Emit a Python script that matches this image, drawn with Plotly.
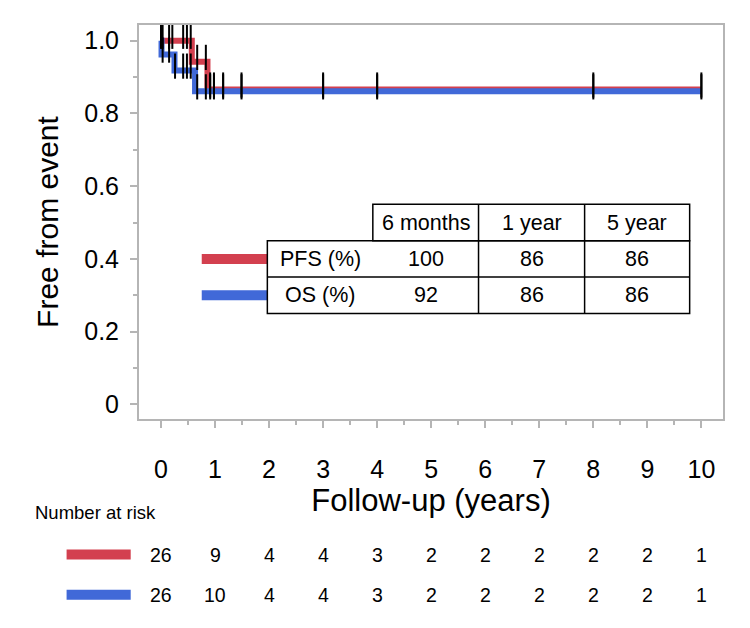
import plotly.graph_objects as go

# ---------------- data ----------------
pfs_t = [0.0, 0.57, 0.86, 10.0]
pfs_s = [1.0, 0.942, 0.866, 0.866]
os_t = [0.0, 0.01, 0.25, 0.63, 10.0]
os_s = [1.0, 0.962, 0.918, 0.861, 0.861]

pfs_cens = [0.0, 0.03, 0.15, 0.21, 0.41, 0.48, 0.55, 0.67, 0.83, 0.91, 0.98, 1.15, 1.49, 3, 4, 8, 10]
os_cens = [0.03, 0.15, 0.26, 0.41, 0.48, 0.55, 0.67, 0.83, 0.91, 0.98, 1.15, 1.49, 3, 4, 8, 10]

risk_times = [0, 1, 2, 3, 4, 5, 6, 7, 8, 9, 10]
pfs_risk = [26, 9, 4, 4, 3, 2, 2, 2, 2, 2, 1]
os_risk = [26, 10, 4, 4, 3, 2, 2, 2, 2, 2, 1]

table_cols = ["6 months", "1 year", "5 year"]
table_rows = ["PFS (%)", "OS (%)"]
pfs_table = [100, 86, 86]
os_table = [92, 86, 86]

y_ticks = [0, 0.2, 0.4, 0.6, 0.8, 1.0]
y_ticktext = ["0", "0.2", "0.4", "0.6", "0.8", "1.0"]
x_ticks = [0, 1, 2, 3, 4, 5, 6, 7, 8, 9, 10]

# ---------------- style ----------------
RED = "#D3404F"
BLUE = "#4169D8"
FONT = "Liberation Sans, Arial, sans-serif"
AXC = "#b5b5b5"
CENSOR_LIFT = 0.012


def step_value(ts, ss, t):
    v = ss[0]
    for ti, si in zip(ts, ss):
        if ti <= t:
            v = si
    return v


fig = go.Figure()
fig.add_trace(go.Scatter(x=pfs_t, y=pfs_s, mode="lines", line=dict(color=RED, width=6, shape="hv"),
                         showlegend=False, hoverinfo="skip"))
fig.add_trace(go.Scatter(x=os_t, y=os_s, mode="lines", line=dict(color=BLUE, width=6, shape="hv"),
                         showlegend=False, hoverinfo="skip"))

for ts, ss, cens in [(pfs_t, pfs_s, pfs_cens), (os_t, os_s, os_cens)]:
    fig.add_trace(go.Scatter(
        x=cens, y=[step_value(ts, ss, c) + CENSOR_LIFT for c in cens], mode="markers",
        marker=dict(symbol="line-ns", size=18, color="black", line=dict(color="black", width=2)),
        showlegend=False, hoverinfo="skip", cliponaxis=False))

shapes = []
annotations = []

# ---------------- inset table ----------------
col_edges = [1.968, 3.92, 5.876, 7.839, 9.783]
row_edges = [0.55, 0.45, 0.35, 0.25]
LW = 1.5
shapes.append(dict(type="rect", xref="x", yref="y", x0=col_edges[1], x1=col_edges[-1],
                   y0=row_edges[1], y1=row_edges[0], line=dict(color="black", width=LW)))
shapes.append(dict(type="rect", xref="x", yref="y", x0=col_edges[0], x1=col_edges[-1],
                   y0=row_edges[3], y1=row_edges[1], line=dict(color="black", width=LW)))
shapes.append(dict(type="line", xref="x", yref="y", x0=col_edges[0], x1=col_edges[-1],
                   y0=row_edges[2], y1=row_edges[2], line=dict(color="black", width=LW)))
for ce in col_edges[2:-1]:
    shapes.append(dict(type="line", xref="x", yref="y", x0=ce, x1=ce,
                       y0=row_edges[3], y1=row_edges[0], line=dict(color="black", width=LW)))

TFS = 21.5
for i, c in enumerate(table_cols):
    xc = (col_edges[i + 1] + col_edges[i + 2]) / 2
    annotations.append(dict(x=xc, y=(row_edges[0] + row_edges[1]) / 2, xref="x", yref="y", text=c,
                            showarrow=False, font=dict(family=FONT, size=TFS, color="black")))
row_vals = [pfs_table, os_table]
for r, lab in enumerate(table_rows):
    yc = (row_edges[r + 1] + row_edges[r + 2]) / 2
    annotations.append(dict(x=(col_edges[0] + col_edges[1]) / 2, y=yc, xref="x", yref="y", text=lab,
                            showarrow=False, font=dict(family=FONT, size=TFS, color="black")))
    for i, v in enumerate(row_vals[r]):
        xc = (col_edges[i + 1] + col_edges[i + 2]) / 2
        annotations.append(dict(x=xc, y=yc, xref="x", yref="y", text=str(v),
                                showarrow=False, font=dict(family=FONT, size=TFS, color="black")))
    shapes.append(dict(type="line", xref="x", yref="y", x0=0.754, x1=col_edges[0], y0=yc, y1=yc,
                       line=dict(color=[RED, BLUE][r], width=10), layer="below"))

# ---------------- number at risk ----------------
annotations.append(dict(x=-0.1815, y=-0.237, xref="paper", yref="paper", text="Number at risk",
                        showarrow=False, xanchor="left", yanchor="middle",
                        font=dict(family=FONT, size=18.5, color="black")))
risk_rows_y = [-0.344, -0.446]
for r, (vals, col) in enumerate([(pfs_risk, RED), (os_risk, BLUE)]):
    yy = risk_rows_y[r]
    shapes.append(dict(type="line", xref="paper", yref="paper", x0=-0.124, x1=-0.0142, y0=yy, y1=yy,
                       line=dict(color=col, width=10)))
    for t, v in zip(risk_times, vals):
        annotations.append(dict(x=t, y=yy, xref="x", yref="paper", text=str(v), showarrow=False,
                                xanchor="center", yanchor="middle",
                                font=dict(family=FONT, size=19.5, color="black")))

fig.update_layout(
    width=750, height=628,
    margin=dict(l=139, r=27, t=25, b=209),
    paper_bgcolor="white", plot_bgcolor="white",
    shapes=shapes, annotations=annotations,
    font=dict(family=FONT, color="black"),
    xaxis=dict(range=[-0.407, 10.4], tickmode="array", tickvals=x_ticks,
               showline=True, mirror=True, linecolor=AXC, linewidth=2,
               ticks="outside", ticklen=7, tickwidth=1.5, tickcolor=AXC,
               minor=dict(tickmode="linear", tick0=0, dtick=0.5, ticks="outside", ticklen=4,
                          tickcolor=AXC, tickwidth=1.5),
               showgrid=False, zeroline=False, ticklabelstandoff=20,
               tickfont=dict(family=FONT, size=25, color="black"),
               title=dict(text="Follow-up (years)", font=dict(family=FONT, size=31, color="black"),
                          standoff=6)),
    yaxis=dict(range=[-0.04, 1.043], tickmode="array", tickvals=y_ticks, ticktext=y_ticktext,
               showline=True, mirror=True, linecolor=AXC, linewidth=2,
               ticks="outside", ticklen=7, tickwidth=1.5, tickcolor=AXC,
               minor=dict(tickmode="linear", tick0=0, dtick=0.1, ticks="outside", ticklen=4,
                          tickcolor=AXC, tickwidth=1.5),
               showgrid=False, zeroline=False, ticklabelstandoff=6,
               tickfont=dict(family=FONT, size=25, color="black"),
               title=dict(text="Free from event", font=dict(family=FONT, size=30, color="black"),
                          standoff=17)),
)

fig.write_html("out.html")
